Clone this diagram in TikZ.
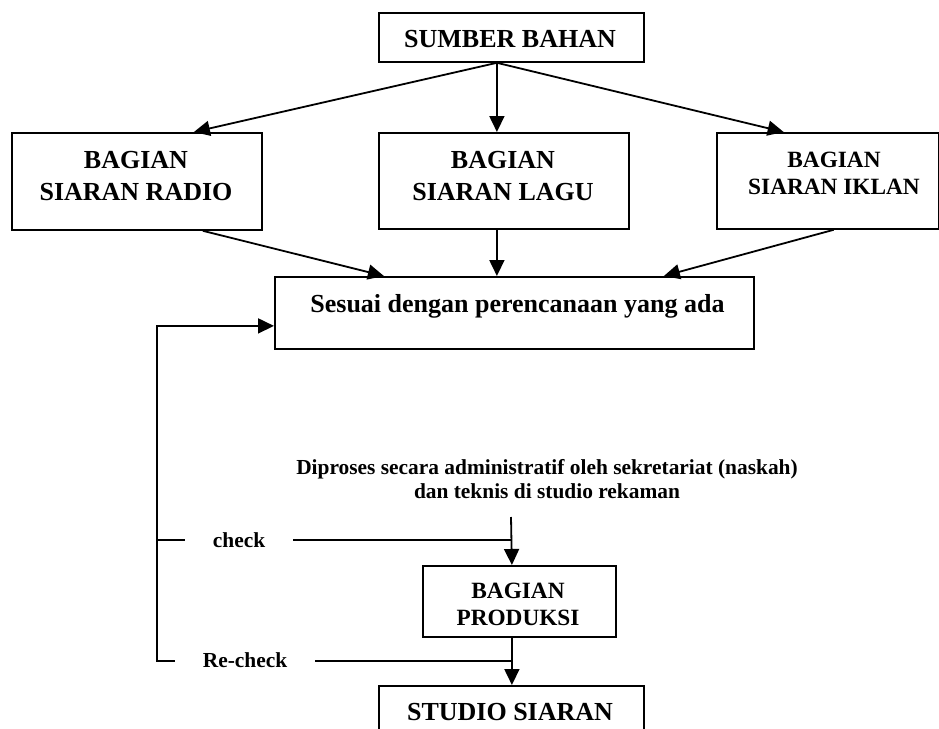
\documentclass[tikz,border=0pt]{standalone}
\usepackage{fontspec}
\setmainfont{Liberation Serif}
\usetikzlibrary{arrows.meta}
\begin{document}
\begin{tikzpicture}[x=1pt,y=-1pt,
  box/.style={draw, line width=1.8pt, inner sep=0pt, anchor=north west},
  lbl/.style={inner sep=0pt, align=center},
  big/.style={font=\bfseries\fontsize{26}{32}\selectfont},
  mid/.style={font=\bfseries\fontsize{23.3}{27}\selectfont},
  sml/.style={font=\bfseries\fontsize{21.4}{24}\selectfont},
  arr/.style={line width=1.8pt, -{Triangle[length=16pt,width=15pt]}},
  ln/.style={line width=1.8pt},
  tag/.style={fill=white, inner xsep=28pt, inner ysep=5pt, anchor=base},
]
\useasboundingbox (0,0) rectangle (939,728);
\clip (0,0) rectangle (939,728);

% boxes
\node[box, minimum width=265pt, minimum height=49pt] (sumber) at (378,12) {};
\node[box, minimum width=250pt, minimum height=97pt] (radio) at (11,132) {};
\node[box, minimum width=250pt, minimum height=96pt] (lagu) at (378,132) {};
\node[box, minimum width=221.5pt, minimum height=96pt] (iklan) at (716,132) {};
\node[box, minimum width=479pt, minimum height=72pt] (sesuai) at (274,276) {};
\node[box, minimum width=193pt, minimum height=71pt] (prod) at (422,565) {};
\node[box, minimum width=265pt, minimum height=90pt] (studio) at (378,685) {};

% texts
\node[lbl, big, anchor=base] (sumbert) at (510,47) {SUMBER BAHAN};
\node[lbl, big, anchor=north] (radiot) at (136,151) {BAGIAN\\SIARAN RADIO};
\node[lbl, big, anchor=north] (lagut) at (503,151) {BAGIAN\\SIARAN LAGU};
\node[lbl, mid, anchor=north] (iklant) at (834,152) {BAGIAN\\SIARAN IKLAN};
\node[lbl, big, anchor=base] (sesuait) at (517.5,312) {Sesuai dengan perencanaan yang ada};
\node[lbl, sml, anchor=north] (dip) at (547,459.5) {Diproses secara administratif oleh sekretariat (naskah)\\dan teknis di studio rekaman};
\node[lbl, mid, anchor=north] (prodt) at (518,582.5) {BAGIAN\\PRODUKSI};
\node[lbl, big, anchor=base] (studiot) at (510,720) {STUDIO SIARAN};

% connectors from source
\draw[arr] ([xshift=-14.5pt]sumber.south) -- ([xshift=57pt]radio.north);
\draw[arr] ([xshift=-14.5pt]sumber.south) -- ([xshift=-7pt]lagu.north);
\draw[arr] ([xshift=-14.5pt]sumber.south) -- ([xshift=-44pt]iklan.north);

% connectors into planning box
\draw[arr] ([xshift=66pt]radio.south) -- ([xshift=-130.5pt]sesuai.north);
\draw[arr] ([xshift=-7pt]lagu.south) -- ([xshift=-17.5pt]sesuai.north);
\draw[arr] ([xshift=6pt]iklan.south) -- ([xshift=149.5pt]sesuai.north);

% production flow
\coordinate (d0) at (511,517);
\coordinate (j1) at (511,540);
\coordinate (j2) at (511,661);
\coordinate (c1) at (157,540);
\coordinate (c2) at (157,661);
\draw[arr] (d0) -- ([xshift=-7.5pt]prod.north);
\draw[arr] ([xshift=-7.5pt]prod.south) -- ([xshift=0.5pt]studio.north);

% check loops
\draw[ln] (j1) -- (c1);
\draw[arr] (j2) -- (c2) |- ([yshift=-13pt]sesuai.west);
\node[tag, sml] (check) at (239,547) {check};
\node[tag, sml] (recheck) at (245,667) {Re-check};
\end{tikzpicture}
\end{document}
